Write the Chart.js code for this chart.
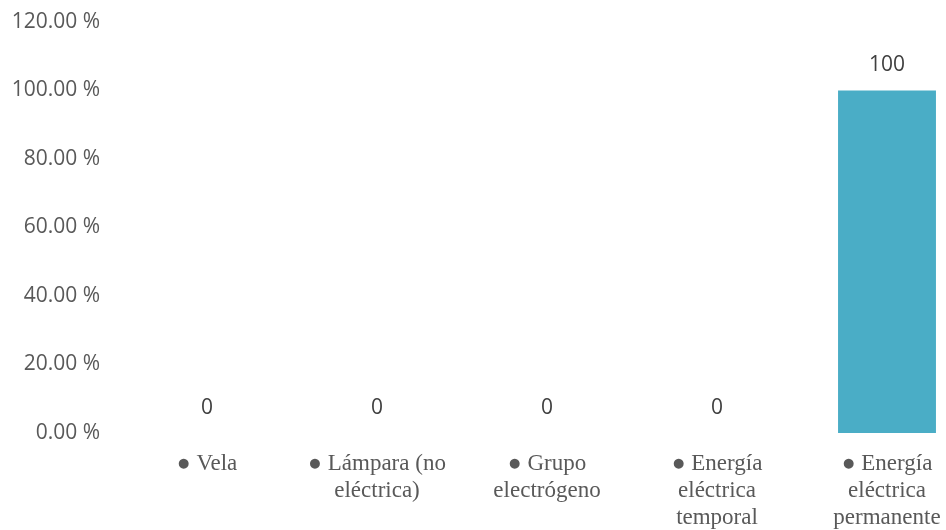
<!DOCTYPE html>
<html>
<head>
<meta charset="utf-8">
<script src="https://cdn.jsdelivr.net/npm/chart.js@4.4.1/dist/chart.umd.min.js"></script>
<style>
  html, body { margin: 0; padding: 0; background: #fff; overflow: hidden; }
  #wrap { width: 1000px; height: 530px; }
</style>
</head>
<body>
<div id="wrap"><canvas id="myChart" width="1000" height="530"></canvas></div>
<script>
// datos
const categorias = [
  ['● Vela'],
  ['● Lámpara (no', 'eléctrica)'],
  ['● Grupo', 'electrógeno'],
  ['● Energía', 'eléctrica', 'temporal'],
  ['● Energía', 'eléctrica', 'permanente']
];
const valores = [0, 0, 0, 0, 100];
const ticksY = [0, 20, 40, 60, 80, 100, 120];

// etiquetas encima de cada barra
const etiquetasBarras = {
  id: 'etiquetasBarras',
  afterDatasetsDraw(chart) {
    const ctx = chart.ctx;
    const meta = chart.getDatasetMeta(0);
    ctx.save();
    ctx.font = '21px "Open Sans"';
    ctx.fillStyle = '#404040';
    ctx.textAlign = 'center';
    ctx.textBaseline = 'middle';
    meta.data.forEach(function (bar, i) {
      ctx.fillText(String(valores[i]), bar.x, bar.y - 25);
    });
    ctx.restore();
  }
};

const ctx = document.getElementById('myChart').getContext('2d');
const myChart = new Chart(ctx, {
  type: 'bar',
  data: {
    labels: categorias,
    datasets: [{
      data: valores,
      backgroundColor: '#4AADC6',
      borderWidth: 0,
      barPercentage: 0.576,
      categoryPercentage: 1
    }]
  },
  options: {
    responsive: false,
    animation: false,
    layout: { padding: { top: 22, right: 28, left: 0, bottom: 0 } },
    plugins: {
      legend: { display: false },
      tooltip: { enabled: false }
    },
    scales: {
      x: {
        grid: { display: false, drawTicks: false },
        border: { display: false },
        ticks: {
          color: '#595959',
          font: { family: '"Liberation Serif"', size: 23, lineHeight: 1.18 },
          padding: 17,
          maxRotation: 0,
          autoSkip: false
        },
        afterFit: function (scale) { scale.height = 97; }
      },
      y: {
        min: 0,
        max: 120,
        grid: { display: false, drawTicks: false },
        border: { display: false },
        afterBuildTicks: function (scale) {
          scale.ticks = ticksY.map(function (v) { return { value: v }; });
        },
        ticks: {
          color: '#595959',
          font: { family: '"Open Sans"', size: 21 },
          padding: 22,
          callback: function (v) { return v.toFixed(2) + ' %'; }
        },
        afterFit: function (scale) {
          scale.width = 122;
          scale.paddingTop = 0;
          scale.paddingBottom = 0;
        }
      }
    }
  },
  plugins: [etiquetasBarras]
});
</script>
</body>
</html>
